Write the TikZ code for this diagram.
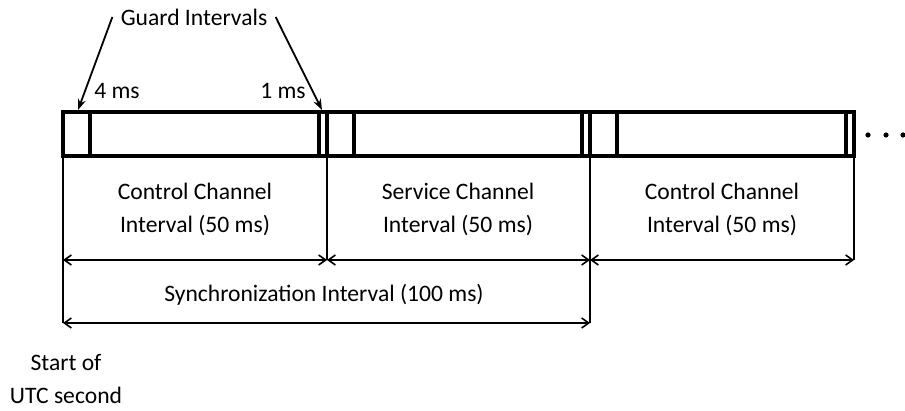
\documentclass[tikz,border=0pt]{standalone}
\usepackage{fontspec}
\setmainfont{Carlito}
\usetikzlibrary{arrows.meta}

\tikzset{
  frame/.style={line width=1.7pt},
  tick/.style={line width=0.8pt},
  dim/.style={line width=0.8pt,{Straight Barb[length=3.5pt,width=5pt]}-{Straight Barb[length=3.5pt,width=5pt]}},
  guard/.style={line width=0.9pt,-{Stealth[length=5.5pt,width=4pt]}},
  lbl/.style={font=\fontsize{11.8}{16.5}\selectfont,align=center,inner sep=0pt}
}

\begin{document}
\begin{tikzpicture}[x=0.5pt,y=-0.5pt]
  \useasboundingbox (0,0) rectangle (905,411);
  % frames, each with a 4 ms and a 1 ms guard
  \foreach \i/\xa/\xb in {0/63/327,1/327/590,2/590/854}{
    \draw[frame] (\xa,112) rectangle (\xb,156);
    \draw[frame] (\xa+27,112) -- (\xa+27,156);
    \draw[frame] (\xb-8,112) -- (\xb-8,156);
    \coordinate (t\i) at (\xa,156);
  }
  \coordinate (t3) at (854,156);
  \foreach \x in {868,886,903}
    \fill (\x,135) circle (2.6);

  % dimension lines
  \foreach \i/\x in {0/63,1/327,2/590,3/854}
    \coordinate (a\i) at (\x,260);
  \coordinate (b0) at (63,323);
  \coordinate (b2) at (590,323);
  \draw[tick] (t0) -- (b0);
  \draw[tick] (t1) -- (a1);
  \draw[tick] (t2) -- (b2);
  \draw[tick] (t3) -- (a3);
  \draw[dim] (a0) -- (a1);
  \draw[dim] (a1) -- (a2);
  \draw[dim] (a2) -- (a3);
  \draw[dim] (b0) -- (b2);

  % labels
  \node[lbl] (cch1) at (195,209) {Control Channel\\Interval (50 ms)};
  \node[lbl] (sch) at (458,209) {Service Channel\\Interval (50 ms)};
  \node[lbl] (cch2) at (722,209) {Control Channel\\Interval (50 ms)};
  \node[lbl,anchor=base] (sync) at (324,302) {Synchronization Interval (100 ms)};
  \node[lbl] (utc) at (66,379) {Start of\\UTC second};
  \node[lbl] (ms4) at (117,91) {4 ms};
  \node[lbl] (ms1) at (283,91) {1 ms};

  % guard intervals
  \node[lbl,inner sep=4pt] (gi) at (194,17) {Guard Intervals};
  \coordinate (g1) at (78,110);
  \coordinate (g2) at (322,110);
  \draw[guard] (gi.west) -- (g1);
  \draw[guard] (gi.east) -- (g2);
\end{tikzpicture}
\end{document}
